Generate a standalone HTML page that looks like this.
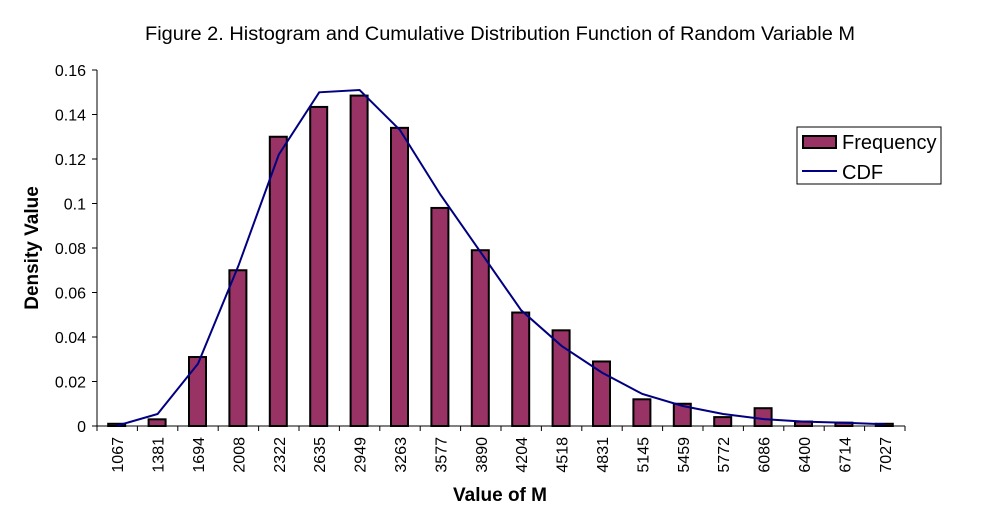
<!DOCTYPE html>
<html><head><meta charset="utf-8"><style>
html,body{margin:0;padding:0;background:#fff;width:995px;height:528px;overflow:hidden}
text{font-family:"Liberation Sans",Arial,sans-serif;fill:#000}
</style></head><body>
<svg id="s" width="995" height="528" xmlns="http://www.w3.org/2000/svg">
<text x="500" y="40" font-size="19" text-anchor="middle" textLength="710" lengthAdjust="spacingAndGlyphs">Figure 2.  Histogram and Cumulative Distribution Function of Random Variable M</text>
<text x="38" y="248" font-size="19" font-weight="bold" text-anchor="middle" transform="rotate(-90 38 248)">Density Value</text>
<text x="500" y="501" font-size="19" font-weight="bold" text-anchor="middle">Value of M</text>
<rect x="797" y="127" width="144" height="57" fill="#fff" stroke="#000" stroke-width="1"/>
<rect x="803" y="136" width="33" height="12" fill="#993366" stroke="#000" stroke-width="2"/>
<text x="842" y="149" font-size="20">Frequency</text>
<line x1="802" y1="171" x2="837" y2="171" stroke="#000080" stroke-width="2"/>
<text x="842" y="179" font-size="20">CDF</text>
</svg>
<script>
var s=document.getElementById('s'),NS='http://www.w3.org/2000/svg';
function el(t,a,txt){var e=document.createElementNS(NS,t);for(var k in a)e.setAttribute(k,a[k]);if(txt!=null)e.textContent=txt;s.appendChild(e);return e;}
var x0=97,x1=905,y0=426,sc=2225,w=(x1-x0)/20;
var labs=[1067,1381,1694,2008,2322,2635,2949,3263,3577,3890,4204,4518,4831,5145,5459,5772,6086,6400,6714,7027];
var f=[0.001,0.003,0.031,0.070,0.130,0.1434,0.1485,0.134,0.098,0.079,0.051,0.043,0.029,0.012,0.010,0.004,0.008,0.002,0.0015,0.001];
var c=[0.0002,0.0054,0.028,0.072,0.122,0.150,0.151,0.133,0.104,0.078,0.052,0.036,0.024,0.0144,0.009,0.0054,0.0031,0.002,0.0015,0.0008];
for(var i=0;i<20;i++){var cx=x0+w*(i+0.5),h=f[i]*sc;
el('rect',{x:cx-9,y:y0-h,width:17,height:h,fill:'#993366',stroke:'#000','stroke-width':2});
el('text',{x:0,y:0,'font-size':16,'text-anchor':'end',transform:'translate('+(cx+6)+' 437) rotate(-90)'},labs[i]);}
el('line',{x1:x0,y1:70,x2:x0,y2:y0,stroke:'#000','stroke-width':1});
el('line',{x1:x0,y1:y0,x2:x1,y2:y0,stroke:'#000','stroke-width':1});
for(var i=0;i<=20;i++){var x=x0+w*i;el('line',{x1:x,y1:y0,x2:x,y2:y0+5,stroke:'#000'});}
for(var j=0;j<=8;j++){var v=j*0.02,y=y0-v*sc;el('line',{x1:x0-5,y1:y,x2:x0,y2:y,stroke:'#000'});
el('text',{x:86,y:y+6,'font-size':16,'text-anchor':'end'},j==0?'0':(+v.toFixed(2)).toString());}
var p=c.map(function(v,i){return (x0+w*(i+0.5)).toFixed(1)+','+(y0-v*sc).toFixed(1)}).join(' ');
el('polyline',{points:p,fill:'none',stroke:'#000080','stroke-width':2});
</script>
</body></html>
